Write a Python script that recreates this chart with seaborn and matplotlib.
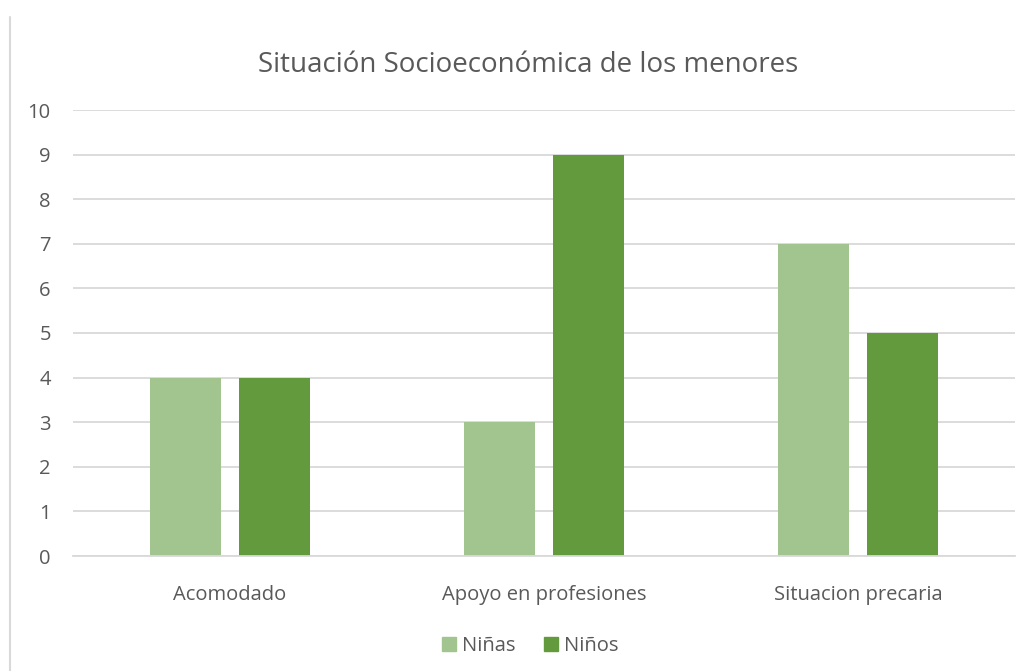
import matplotlib
matplotlib.use("Agg")
import matplotlib.pyplot as plt
from matplotlib.lines import Line2D
import pandas as pd
import seaborn as sns

# data
categorias = ["Acomodado", "Apoyo en profesiones", "Situacion precaria"]
ninas = [4, 3, 7]
ninos = [4, 9, 5]
series = ["Niñas", "Niños"]

df = pd.DataFrame({
    "categoria": categorias * 2,
    "valor": ninas + ninos,
    "serie": [series[0]] * 3 + [series[1]] * 3,
})

sns.set_theme(style="white")
plt.rcParams["font.family"] = ["Open Sans", "DejaVu Sans"]

grey = "#595959"
colores = ["#A2C48F", "#629A3D"]
fig = plt.figure(figsize=(10.3, 6.71), dpi=100)
ax = fig.add_axes([73 / 1030, 1 - 556 / 671, 942 / 1030, 446 / 671])

sns.barplot(data=df, x="categoria", y="valor", hue="serie", ax=ax,
            palette=colores, width=0.567, gap=0.2,
            saturation=1, legend=False, linewidth=0)

ax.set_ylim(0, 10)
ax.set_yticks(range(0, 11))
ax.yaxis.grid(True, color="#D9D9D9", linewidth=1.3)
ax.set_axisbelow(True)
for s in ["top", "right", "left"]:
    ax.spines[s].set_visible(False)
ax.spines["bottom"].set_color("#D9D9D9")
ax.spines["bottom"].set_linewidth(1.3)
ax.set_xlabel("")
ax.set_ylabel("")
ax.tick_params(axis="both", length=0, colors=grey, labelsize=14.5)
ax.tick_params(axis="y", pad=16)
ax.tick_params(axis="x", pad=21)

fig.text(528 / 1030, 1 - 65 / 671, "Situación Socioeconómica de los menores",
         ha="center", va="center", fontsize=20, color=grey)

handles = [plt.Rectangle((0, 0), 1, 1, color=c) for c in colores]
fig.legend(handles, series, loc="center", bbox_to_anchor=(530 / 1030, 1 - 646 / 671),
           ncol=2, frameon=False, fontsize=14.5, labelcolor=grey,
           handlelength=0.7, handleheight=0.7, handletextpad=0.3, columnspacing=1.4)

fig.add_artist(Line2D([10 / 1030, 10 / 1030], [0, 1 - 17 / 671],
                      transform=fig.transFigure, color="#D9D9D9", linewidth=1.5))

fig.savefig("out.png", dpi=100)
